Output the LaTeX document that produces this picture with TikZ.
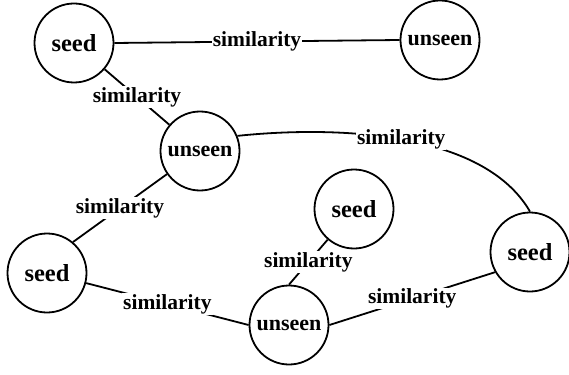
\documentclass[tikz,border=0pt]{standalone}
\usepackage{fontspec}
\setmainfont{Liberation Serif}
\usetikzlibrary{positioning}

\begin{document}
\begin{tikzpicture}[-,line width=1.8pt,on grid,
  main node/.style={circle,draw,minimum size=79pt,inner sep=0pt,font=\bfseries\fontsize{22}{22}\selectfont},
  seed node/.style={main node,font=\bfseries\fontsize{24.5}{24.5}\selectfont},
  sim label/.style={fill=white,inner sep=1pt,font=\bfseries\fontsize{21.5}{21.5}\selectfont}]

  \useasboundingbox (0,0) rectangle (569pt,-374pt);

  \node[seed node] (1) at (74pt,-43pt) {seed};
  \node[main node] (2) [above right=3pt and 366pt of 1] {unseen};
  \node[main node] (3) [below right=108pt and 126pt of 1] {unseen};
  \node[seed node] (4) [below right=58pt and 154pt of 3] {seed};
  \node[seed node] (5) [below left=122pt and 153pt of 3] {seed};
  \node[main node] (6) [below right=52pt and 242pt of 5] {unseen};
  \node[seed node] (7) [above right=73pt and 241pt of 6] {seed};

  \path[every node/.style={sim label}]
    (1.east) edge node {similarity} (2.west)
    (1) edge node {similarity} (3)
    (3.215) edge node {similarity} (5.50)
    (3.22) edge [out=6,in=120,looseness=0.8] node {similarity} (7.north)
    (5) edge node {similarity} (6.west)
    (6.north) edge node {similarity} (4)
    (6.east) edge node {similarity} (7.210);
\end{tikzpicture}
\end{document}
